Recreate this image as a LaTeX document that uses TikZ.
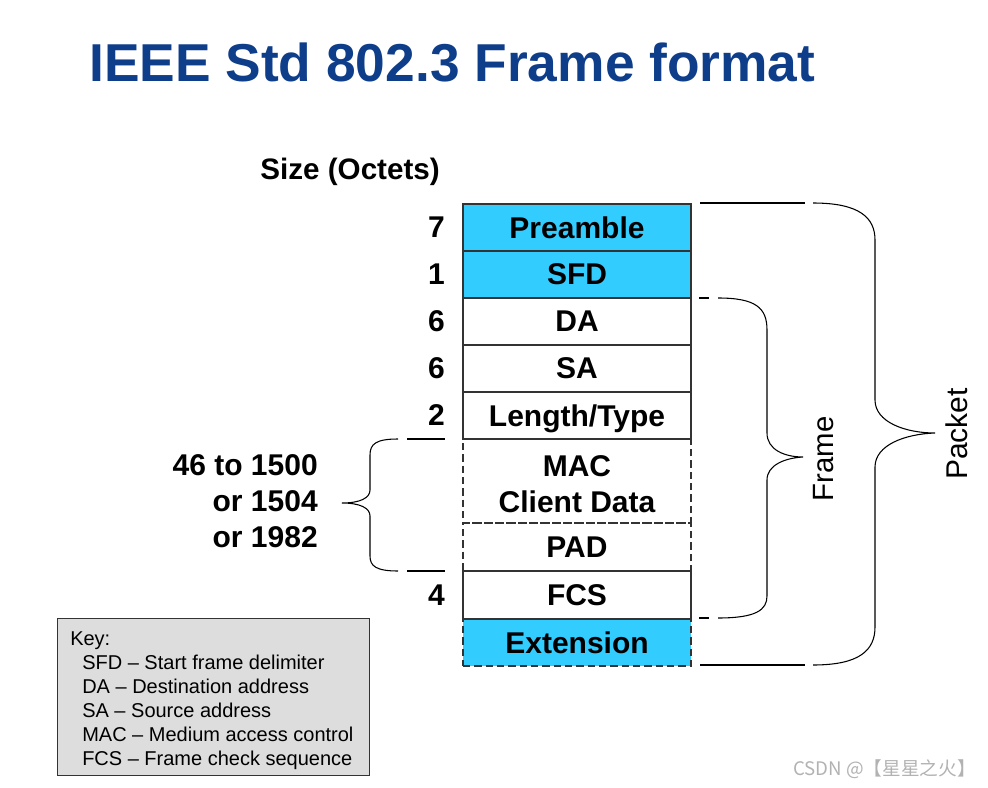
\documentclass[tikz,border=0pt]{standalone}
\usepackage{fontspec}
\setmainfont{Liberation Sans}
\newfontfamily\cjkfont{Noto Sans CJK SC}
\usetikzlibrary{positioning}
\definecolor{fieldcyan}{HTML}{33CCFF}
\definecolor{titleblue}{HTML}{0E3D8A}
\definecolor{keygray}{HTML}{DDDDDD}
\definecolor{edgegray}{HTML}{333333}
\tikzstyle{field} = [
    rectangle,
    minimum width=171pt,
    minimum height=35.25pt,
    inner sep=0pt,
    outer sep=0pt,
    line width=1.1pt,
    draw=edgegray,
    font=\fontsize{22.5}{27}\selectfont\bfseries
]
\tikzstyle{optfield} = [
    field,
    dash pattern=on 5.5pt off 3pt
]
\tikzstyle{octets} = [
    inner sep=0pt,
    align=right,
    font=\fontsize{22.5}{27}\selectfont\bfseries
]
\tikzstyle{brace} = [line width=0.8pt]

\begin{document}
\begin{tikzpicture}[x=0.75pt, y=-0.75pt]
\useasboundingbox (0,0) rectangle (988,788);

\node (title) [anchor=west, text=titleblue, inner sep=0pt,
    font=\fontsize{40}{44}\selectfont\bfseries] at (89,62)
{IEEE Std 802.3 Frame format};

\node (size) [octets, anchor=east, font=\fontsize{22.2}{24}\selectfont\bfseries] at (440,172)
{Size (Octets)};

% frame fields
\node (preamble) [field, fill=fieldcyan, anchor=north west] at (463,204) {Preamble};
\node (sfd) [field, fill=fieldcyan, below=0pt of preamble] {SFD};
\node (da) [field, below=0pt of sfd] {DA};
\node (sa) [field, below=0pt of da] {SA};
\node (lentype) [field, below=0pt of sa, text depth=0pt, text height=16pt] {Length/Type};
\node (macdata) [optfield, minimum height=63pt, below=0pt of lentype] {};
\node (pad) [optfield, minimum height=36pt, below=0pt of macdata] {PAD};
\node (fcs) [field, minimum height=36pt, below=0pt of pad] {FCS};
\node (ext) [optfield, fill=fieldcyan, below=0pt of fcs] {Extension};
\draw [line width=1.1pt, edgegray] (fcs.south west) -- (fcs.south east);
\node (maclabel) [octets, align=center] at ([yshift=-2.5pt]macdata.center)
{MAC\\Client Data};

% sizes
\node [octets, left=13.5pt of preamble] {7};
\node [octets, left=13.5pt of sfd] {1};
\node [octets, left=13.5pt of da] {6};
\node [octets, left=13.5pt of sa] {6};
\node [octets, left=13.5pt of lentype] {2};
\node [octets, left=13.5pt of fcs] {4};
\node (datasize) [octets, anchor=east] at (318,501) {46 to 1500\\or 1504\\or 1982};

% left brace
\draw [brace] (407,439) -- (445,439);
\draw [brace] (407,571) -- (445,571);
\draw [brace] (398,439) .. controls (376,439) and (370,444) .. (370,455) -- (370,490)
    .. controls (370,498) and (360,503) .. (342,503)
    .. controls (360,503) and (370,508) .. (370,516) -- (370,556)
    .. controls (370,566) and (376,571) .. (398,571);

% frame brace
\draw [brace] (699,298) -- (709,298);
\draw [brace] (699,618) -- (709,618);
\draw [brace] (718,298) .. controls (756,298) and (767,308) .. (767,330) -- (767,433)
    .. controls (767,450) and (785,457) .. (803,457)
    .. controls (785,458) and (767,465) .. (767,480) -- (767,596)
    .. controls (767,610) and (756,618) .. (718,618);
\node (frame) [rotate=90, font=\fontsize{22}{24}\selectfont] at (824,459) {Frame};

% packet brace
\draw [brace] (700,203) -- (805,203);
\draw [brace] (700,665) -- (805,665);
\draw [brace] (813,203) .. controls (860,203) and (875,218) .. (875,240) -- (875,400)
    .. controls (875,422) and (905,433) .. (935,433)
    .. controls (905,434) and (875,445) .. (875,467) -- (875,627)
    .. controls (875,650) and (860,665) .. (813,665);
\node (packet) [rotate=90, font=\fontsize{22.5}{24}\selectfont] at (957,434) {Packet};

% key
\node (key) [draw=edgegray, line width=0.9pt, fill=keygray, anchor=north west,
    minimum width=234pt, minimum height=117.75pt, inner sep=0pt] at (57,618) {};
\node (keytext) [anchor=north west, align=left, inner sep=0pt,
    font=\fontsize{15}{18}\selectfont] at (70,631)
{Key:\\
\hspace*{9pt}SFD -- Start frame delimiter\\
\hspace*{9pt}DA -- Destination address\\
\hspace*{9pt}SA -- Source address\\
\hspace*{9pt}MAC -- Medium access control\\
\hspace*{9pt}FCS -- Frame check sequence};

\node (mark) [anchor=east, text=gray!60, inner sep=0pt,
    font=\cjkfont\fontsize{14}{16}\selectfont] at (976,769) {CSDN @【星星之火】};

\end{tikzpicture}
\end{document}
